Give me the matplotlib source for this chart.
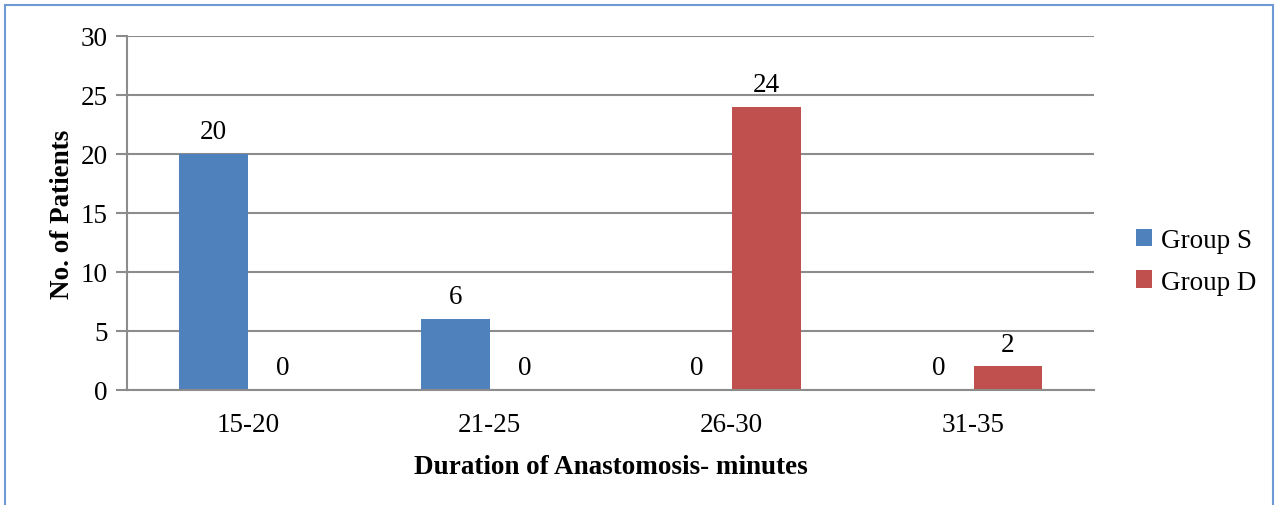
import numpy as np
import matplotlib.pyplot as plt
from matplotlib.patches import Rectangle

categories = ['15-20', '21-25', '26-30', '31-35']
group_s = [20, 6, 0, 0]
group_d = [0, 0, 24, 2]

plt.rcParams['font.family'] = 'Liberation Serif'
fs = 19.5

fig = plt.figure(figsize=(12.75, 5.06), dpi=100)
ax = fig.add_axes([0.0996, 0.2273, 0.7588, 0.6996])

x = np.arange(len(categories))
w = 0.285
b1 = ax.bar(x - w / 2, group_s, w, color='#4f81bd', label='Group S')
b2 = ax.bar(x + w / 2, group_d, w, color='#c0504d', label='Group D')
ax.bar_label(b1, padding=7, fontsize=fs)
ax.bar_label(b2, padding=7, fontsize=fs)

ax.set_xlim(-0.5, len(categories) - 0.5)
ax.set_ylim(0, 30)
ax.set_yticks(range(0, 31, 5))
ax.set_xticks(x)
ax.set_xticklabels(categories)
ax.grid(axis='y', color='#8c8c8c', linewidth=1.5)
ax.set_axisbelow(True)
for s in ['top', 'right']:
    ax.spines[s].set_visible(False)
for s in ['left', 'bottom']:
    ax.spines[s].set_color('#8c8c8c')
    ax.spines[s].set_linewidth(1.5)
ax.tick_params(axis='y', length=8, width=1.5, color='#8c8c8c', labelsize=fs, pad=6)
ax.tick_params(axis='x', length=0, labelsize=fs, pad=16)

ax.set_xlabel('Duration of Anastomosis- minutes', fontsize=fs, fontweight='bold', labelpad=12)
ax.set_ylabel('No. of Patients', fontsize=fs, fontweight='bold', labelpad=4)

fig.legend(loc='center left', bbox_to_anchor=(0.872, 0.482), frameon=False,
           fontsize=fs, handlelength=0.6, handleheight=0.6, handletextpad=0.3,
           labelspacing=0.62)

fig.patches.append(Rectangle((5 / 1275, -0.1), 1268 / 1275, 1.1 - 6 / 506,
                             transform=fig.transFigure, fill=False,
                             edgecolor='#6d9ad3', linewidth=1.5))

plt.savefig('out.png', dpi=100)
